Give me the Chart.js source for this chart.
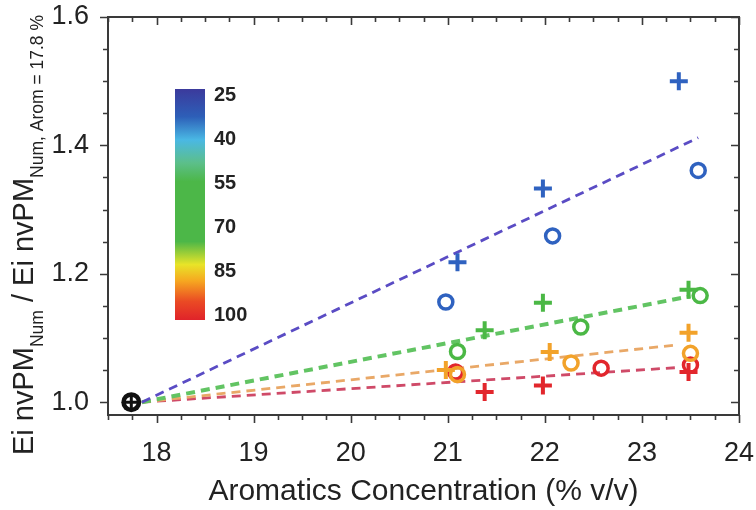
<!DOCTYPE html>
<html><head><meta charset="utf-8">
<script src="https://cdn.jsdelivr.net/npm/chart.js@4/dist/chart.umd.min.js"></script>
<style>html,body{margin:0;padding:0;background:#fff}#wrap{width:756px;height:510px}</style>
</head><body><div id="wrap"><canvas id="c" width="756" height="510"></canvas></div>
<script>
// ---- data ----
const xTicks = [18, 19, 20, 21, 22, 23, 24];
const yTicks = [1.0, 1.2, 1.4, 1.6];
const colorbarTicks = [25, 40, 55, 70, 85, 100];
const refPoint = [{x: 17.74, y: 1.0}];
const blueCross = [{x: 21.1, y: 1.218}, {x: 21.98, y: 1.333}, {x: 23.38, y: 1.50}];
const blueCircle = [{x: 20.98, y: 1.156}, {x: 22.08, y: 1.259}, {x: 23.58, y: 1.361}];
const greenCross = [{x: 21.38, y: 1.112}, {x: 21.98, y: 1.155}, {x: 23.48, y: 1.175}];
const greenCircle = [{x: 21.1, y: 1.079}, {x: 22.37, y: 1.117}, {x: 23.6, y: 1.166}];
const orangeCross = [{x: 20.98, y: 1.05}, {x: 22.05, y: 1.078}, {x: 23.48, y: 1.108}];
const orangeCircle = [{x: 21.1, y: 1.043}, {x: 22.27, y: 1.061}, {x: 23.5, y: 1.076}];
const redCross = [{x: 21.38, y: 1.016}, {x: 21.98, y: 1.026}, {x: 23.48, y: 1.047}];
const redCircle = [{x: 21.08, y: 1.047}, {x: 22.58, y: 1.053}, {x: 23.5, y: 1.058}];
const blueFit = [{x: 17.85, y: 1.0}, {x: 23.58, y: 1.412}];
const greenFit = [{x: 17.85, y: 1.0}, {x: 23.5, y: 1.165}];
const orangeFit = [{x: 17.85, y: 1.0}, {x: 23.35, y: 1.089}];
const redFit = [{x: 17.85, y: 1.0}, {x: 23.38, y: 1.054}];

const FONT = '"Liberation Sans", Arial, sans-serif';

function fit(data, color, w) {
  return {type: 'line', data, borderColor: color, borderWidth: w, borderDash: [9, 6],
    pointRadius: 0, fill: false, showLine: true, order: 5};
}
function cross(data, color) {
  return {type: 'scatter', data, pointStyle: 'cross', pointRadius: 9, borderColor: color,
    borderWidth: 4, pointHoverRadius: 9, order: 1};
}
function circ(data, color) {
  return {type: 'scatter', data, pointStyle: 'circle', pointRadius: 7, borderColor: color,
    backgroundColor: 'rgba(255,255,255,0)', borderWidth: 3.5, order: 1};
}

const framePlugin = {
  id: 'frame',
  afterDatasetsDraw(chart) {
    const {ctx, chartArea: a, scales: {x, y}} = chart;
    ctx.save();
    ctx.strokeStyle = '#3a3a3a';
    ctx.lineWidth = 2;
    ctx.strokeRect(a.left, a.top, a.right - a.left, a.bottom - a.top);
    ctx.lineWidth = 1.6;
    ctx.beginPath();
    for (let v = 17.5; v <= 24.001; v += 0.25) {
      const px = Math.round(x.getPixelForValue(v)) + 0.5;
      const major = Math.abs(v - Math.round(v)) < 1e-6;
      const L = major ? 8 : 5;
      ctx.moveTo(px, a.bottom); ctx.lineTo(px, a.bottom + L);
      ctx.moveTo(px, a.top); ctx.lineTo(px, a.top + L);
    }
    for (let v = 1.0; v <= 1.6001; v += 0.05) {
      const py = Math.round(y.getPixelForValue(v)) + 0.5;
      const major = Math.abs(v * 5 - Math.round(v * 5)) < 1e-6;
      const L = major ? 8 : 5;
      ctx.moveTo(a.left, py); ctx.lineTo(a.left - L, py);
      ctx.moveTo(a.right, py); ctx.lineTo(a.right - L, py);
    }
    ctx.stroke();

    // reference point marker
    const rx = x.getPixelForValue(refPoint[0].x), ry = y.getPixelForValue(refPoint[0].y);
    ctx.fillStyle = '#111';
    ctx.beginPath(); ctx.arc(rx, ry, 10, 0, Math.PI * 2); ctx.fill();
    ctx.fillStyle = '#fff';
    ctx.beginPath(); ctx.arc(rx, ry, 5.5, 0, Math.PI * 2); ctx.fill();
    ctx.strokeStyle = '#111'; ctx.lineWidth = 3;
    ctx.beginPath(); ctx.moveTo(rx - 7, ry); ctx.lineTo(rx + 7, ry);
    ctx.moveTo(rx, ry - 7); ctx.lineTo(rx, ry + 7); ctx.stroke();

    // colorbar
    const cb = {l: 175, t: 89, w: 30, h: 231};
    const g = ctx.createLinearGradient(0, cb.t, 0, cb.t + cb.h);
    g.addColorStop(0, '#3b3a9c');
    g.addColorStop(0.12, '#2d5fb8');
    g.addColorStop(0.22, '#4ab8e4');
    g.addColorStop(0.32, '#5cbf8a');
    g.addColorStop(0.40, '#4cb748');
    g.addColorStop(0.66, '#4cb748');
    g.addColorStop(0.76, '#e8e428');
    g.addColorStop(0.83, '#f6a820');
    g.addColorStop(0.92, '#ea4a24');
    g.addColorStop(1, '#e0232a');
    ctx.fillStyle = g;
    ctx.fillRect(cb.l, cb.t, cb.w, cb.h);
    ctx.fillStyle = '#222';
    ctx.font = 'bold 20px ' + FONT;
    ctx.textAlign = 'left';
    ctx.textBaseline = 'middle';
    colorbarTicks.forEach((v, i) => {
      const ty = 95 + i * (315 - 95) / (colorbarTicks.length - 1);
      ctx.fillText(String(v), 214, ty);
    });

    // y axis title with subscripts
    ctx.save();
    ctx.translate(33, 455);
    ctx.rotate(-Math.PI / 2);
    ctx.textAlign = 'left';
    ctx.textBaseline = 'alphabetic';
    ctx.fillStyle = '#222';
    const parts = [['Ei nvPM', 0], ['Num', 1], [' / Ei nvPM', 0], ['Num, Arom = 17.8 %', 1]];
    let cx = 0;
    parts.forEach(([s, sub]) => {
      ctx.font = (sub ? '17.5px ' : '29px ') + FONT;
      ctx.fillText(s, cx, sub ? 10 : 0);
      cx += ctx.measureText(s).width;
    });
    ctx.restore();
    ctx.restore();
  }
};

new Chart(document.getElementById('c'), {
  type: 'scatter',
  data: {
    datasets: [
      fit(blueFit, '#5a4cc4', 2.8),
      fit(greenFit, '#62c463', 4),
      fit(orangeFit, '#e9a867', 2.8),
      fit(redFit, '#cf4a68', 2.8),
      cross(blueCross, '#2f62c0'),
      circ(blueCircle, '#2f62c0'),
      cross(greenCross, '#4bb845'),
      circ(greenCircle, '#4bb845'),
      cross(orangeCross, '#f2a22a'),
      circ(orangeCircle, '#f2a22a'),
      cross(redCross, '#e2262c'),
      circ(redCircle, '#e2262c')
    ]
  },
  options: {
    responsive: false,
    animation: false,
    layout: {padding: {top: 17, right: 17, left: 0, bottom: 0}},
    plugins: {legend: {display: false}, tooltip: {enabled: false}},
    scales: {
      x: {
        type: 'linear', min: 17.5, max: 24,
        afterBuildTicks: s => { s.ticks = xTicks.map(v => ({value: v})); },
        afterFit: s => { s.height = 95; s.paddingLeft = 0; s.paddingRight = 0; },
        grid: {display: false}, border: {display: false},
        ticks: {font: {family: FONT, size: 27}, color: '#222', padding: 14,
          callback: v => String(v), maxRotation: 0},
        title: {display: true, text: 'Aromatics Concentration (% v/v)', color: '#222',
          font: {family: FONT, size: 30}, padding: {top: 4, bottom: 0}}
      },
      y: {
        type: 'linear', min: 0.98, max: 1.6,
        afterBuildTicks: s => { s.ticks = yTicks.map(v => ({value: v})); },
        afterFit: s => { s.width = 108; s.paddingTop = 0; s.paddingBottom = 0; },
        grid: {display: false}, border: {display: false},
        ticks: {font: {family: FONT, size: 27}, color: '#222', padding: 11,
          callback: v => v.toFixed(1)}
      }
    }
  },
  plugins: [framePlugin]
});
</script>
</body></html>
